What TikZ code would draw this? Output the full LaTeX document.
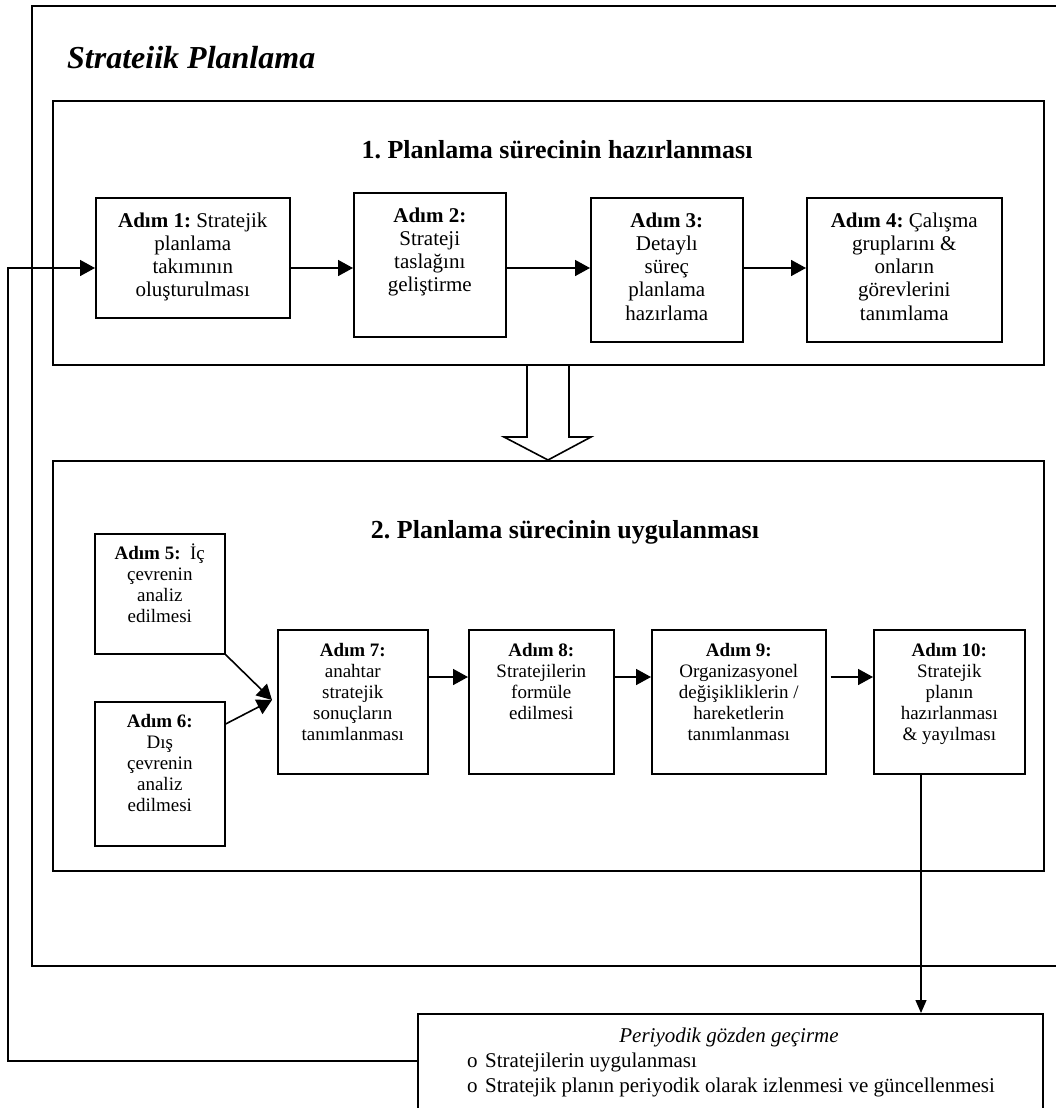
\documentclass[tikz,border=0pt]{standalone}
\usepackage{fontspec}
\setmainfont{Liberation Serif}
\usetikzlibrary{arrows.meta}
\frenchspacing
\begin{document}
\begin{tikzpicture}[x=1pt,y=-1pt,
  frame/.style={draw, line width=1.7pt, inner sep=0pt, anchor=north west},
  box/.style={draw, line width=1.6pt, inner sep=0pt, anchor=north west},
  txtA/.style={anchor=north, align=center, inner sep=0pt, font=\fontsize{21}{23.3}\selectfont},
  txtB/.style={anchor=north, align=center, inner sep=0pt, font=\fontsize{19}{21}\selectfont},
  arr/.style={line width=1.6pt, -{Triangle[length=15pt,width=16pt]}},
  thinarr/.style={line width=1.2pt, -{Triangle[length=13pt,width=11pt]}},
  plain/.style={line width=1.6pt}
]
\useasboundingbox (0,0) rectangle (1056,1108);
\clip (0,0) rectangle (1056,1108);

% outer frame
\node[frame, minimum width=1044pt, minimum height=960pt] (outer) at (31,5) {};
\node[anchor=base west, inner sep=0pt, font=\fontsize{32}{36}\selectfont\bfseries\itshape] (title) at (67,68) {Strateiik Planlama};

% section 1
\node[box, minimum width=991pt, minimum height=264pt] (sec1) at (52,100) {};
\node[anchor=base, inner sep=0pt, font=\fontsize{26}{30}\selectfont\bfseries] (h1) at (557,158) {1. Planlama sürecinin hazırlanması};

\node[box, minimum width=194pt, minimum height=120pt] (b1) at (95,197) {};
\node[box, minimum width=152pt, minimum height=144pt] (b2) at (353,192) {};
\node[box, minimum width=152pt, minimum height=144pt] (b3) at (590,197) {};
\node[box, minimum width=195pt, minimum height=144pt] (b4) at (806,197) {};

\node[txtA] (t1) at ([yshift=-13.5pt]b1.north) {\strut\textbf{Adım 1:} Stratejik\\planlama\\takımının\\oluşturulması};
\node[txtA] (t2) at ([yshift=-13.5pt]b2.north) {\strut\textbf{Adım 2:}\\Strateji\\taslağını\\geliştirme};
\node[txtA] (t3) at ([yshift=-13.5pt]b3.north) {\strut\textbf{Adım 3:}\\Detaylı\\süreç\\planlama\\hazırlama};
\node[txtA] (t4) at ([yshift=-13.5pt]b4.north) {\strut\textbf{Adım 4:} Çalışma\\gruplarını \&\\onların\\görevlerini\\tanımlama};

\draw[arr] (b1.east |- 0,268) -- (b2.west |- 0,268);
\draw[arr] (b2.east |- 0,268) -- (b3.west |- 0,268);
\draw[arr] (b3.east |- 0,268) -- (b4.west |- 0,268);

% block arrow
\draw[plain, line join=miter] (527,364) -- (527,437) -- (504,437) -- (548,460) -- (591,437) -- (569,437) -- (569,364);

% section 2
\node[box, minimum width=991pt, minimum height=410pt] (sec2) at (52,460) {};
\node[anchor=base, inner sep=0pt, font=\fontsize{26}{30}\selectfont\bfseries] (h2) at (565,538) {2. Planlama sürecinin uygulanması};

\node[box, minimum width=130pt, minimum height=120pt] (b5) at (94,533) {};
\node[box, minimum width=130pt, minimum height=144pt] (b6) at (94,701) {};
\node[box, minimum width=150pt, minimum height=144pt] (b7) at (277,629) {};
\node[box, minimum width=145pt, minimum height=144pt] (b8) at (468,629) {};
\node[box, minimum width=174pt, minimum height=144pt] (b9) at (651,629) {};
\node[box, minimum width=151pt, minimum height=144pt] (b10) at (873,629) {};

\node[txtB] (t5) at ([yshift=-10.5pt]b5.north) {\strut\textbf{Adım 5:}\ \ İç\\çevrenin\\analiz\\edilmesi};
\node[txtB] (t6) at ([yshift=-11.6pt]b6.north) {\strut\textbf{Adım 6:}\\Dış\\çevrenin\\analiz\\edilmesi};
\node[txtB] (t7) at ([yshift=-12.6pt]b7.north) {\strut\textbf{Adım 7:}\\anahtar\\stratejik\\sonuçların\\tanımlanması};
\node[txtB] (t8) at ([yshift=-12.6pt]b8.north) {\strut\textbf{Adım 8:}\\Stratejilerin\\formüle\\edilmesi};
\node[txtB] (t9) at ([yshift=-12.6pt]b9.north) {\strut\textbf{Adım 9:}\\Organizasyonel\\değişikliklerin /\\hareketlerin\\tanımlanması};
\node[txtB] (t10) at ([yshift=-12.6pt]b10.north) {\strut\textbf{Adım 10:}\\Stratejik\\planın\\hazırlanması\\\& yayılması};

\coordinate (m7) at (272,700);
\draw[arr] (b5.south east) -- (m7);
\draw[arr] (b6.east |- 0,724) -- (m7);
\draw[arr] (b7.east |- 0,677) -- (b8.west |- 0,677);
\draw[arr] (b8.east |- 0,677) -- (b9.west |- 0,677);
\draw[arr, shorten <=4pt] (b9.east |- 0,677) -- (b10.west |- 0,677);

% bottom box
\node[box, minimum width=625pt, minimum height=110pt] (bot) at (417,1013) {};
\node[anchor=base, inner sep=0pt, font=\fontsize{21}{24}\selectfont\itshape] (bt) at (729,1042) {Periyodik gözden geçirme};
\node[anchor=base west, inner sep=0pt, font=\fontsize{21}{24}\selectfont] (l1) at (467,1067) {\makebox[18pt][l]{o}Stratejilerin uygulanması};
\node[anchor=base west, inner sep=0pt, font=\fontsize{21}{24}\selectfont] (l2) at (467,1092) {\makebox[18pt][l]{o}Stratejik planın periyodik olarak izlenmesi ve güncellenmesi};

\draw[thinarr] (b10.south -| 921,0) -- (bot.north -| 921,0);
\draw[arr] (bot.west |- 0,1061) -- (8,1061) -- (8,268) -- (b1.west |- 0,268);
\end{tikzpicture}
\end{document}
